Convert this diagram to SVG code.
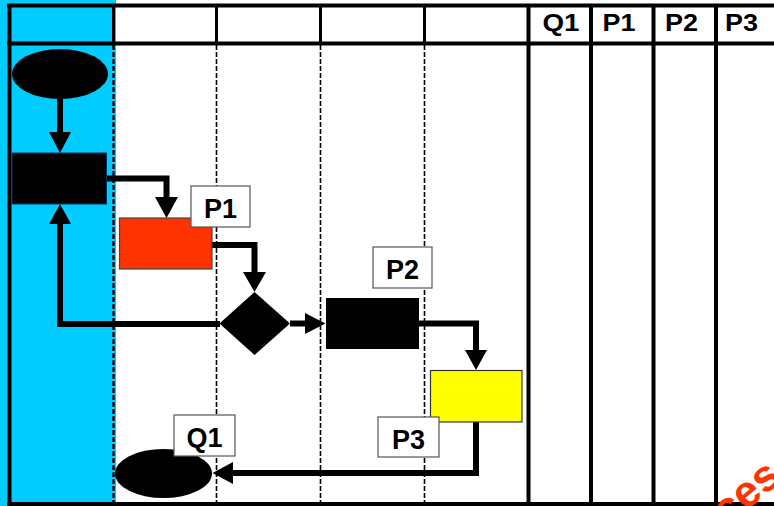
<svg xmlns="http://www.w3.org/2000/svg" width="774" height="506" viewBox="0 0 774 506">
  <style>
    .grid { stroke: #000; fill: none; }
    .thick { stroke-width: 4; }
    .thin { stroke-width: 3; }
    .dash { stroke-width: 1.6; stroke-dasharray: 5 2; }
    .hdr { font-family: "Liberation Sans", Arial, sans-serif; font-weight: bold; font-size: 24px; fill: #000; text-anchor: middle; }
    .lbl rect { fill: #fff; stroke: #555; stroke-width: 1.2; }
    .lbl text { font-family: "Liberation Sans", Arial, sans-serif; font-weight: bold; font-size: 27px; fill: #000; text-anchor: middle; }
    .flow { stroke: #000; stroke-width: 6; fill: none; stroke-linejoin: miter; }
    .head { fill: #000; }
    .mark { font-family: "Liberation Sans", Arial, sans-serif; font-weight: bold; font-size: 44px; fill: #ff3300; }
  </style>

  <!-- background and highlighted lane -->
  <rect x="0" y="0" width="774" height="506" fill="#fff"/>
  <rect x="0" y="0" width="116" height="506" fill="#00ccff"/>

  <!-- table frame -->
  <g id="grid">
    <line class="grid thick" x1="7" y1="5.5" x2="774" y2="5.5"/>
    <line class="grid thick" x1="7" y1="43.5" x2="774" y2="43.5"/>
    <line class="grid thick" x1="7" y1="504" x2="774" y2="504"/>
    <line class="grid thick" x1="9.5" y1="4" x2="9.5" y2="506"/>
    <!-- header separators -->
    <line class="grid thin" x1="113.5" y1="6" x2="113.5" y2="43"/>
    <line class="grid thin" x1="216.5" y1="6" x2="216.5" y2="43"/>
    <line class="grid thin" x1="320.5" y1="6" x2="320.5" y2="43"/>
    <line class="grid thin" x1="424.5" y1="6" x2="424.5" y2="43"/>
    <!-- dashed lane dividers -->
    <line class="grid" stroke-width="2.4" stroke-dasharray="5 2" x1="113.5" y1="45" x2="113.5" y2="503"/>
    <line class="grid dash" x1="216.5" y1="45" x2="216.5" y2="503"/>
    <line class="grid dash" x1="320.5" y1="45" x2="320.5" y2="503"/>
    <line class="grid dash" x1="424.5" y1="45" x2="424.5" y2="503"/>
    <!-- right-hand columns -->
    <line class="grid thick" x1="528.5" y1="4" x2="528.5" y2="506"/>
    <line class="grid thick" x1="591" y1="4" x2="591" y2="506"/>
    <line class="grid thick" x1="653.5" y1="4" x2="653.5" y2="506"/>
    <line class="grid thick" x1="716" y1="4" x2="716" y2="506"/>
    <text class="hdr" x="561" y="31" textLength="37" lengthAdjust="spacingAndGlyphs">Q1</text>
    <text class="hdr" x="619" y="31" textLength="33" lengthAdjust="spacingAndGlyphs">P1</text>
    <text class="hdr" x="681.5" y="31" textLength="33" lengthAdjust="spacingAndGlyphs">P2</text>
    <text class="hdr" x="741.5" y="31" textLength="33" lengthAdjust="spacingAndGlyphs">P3</text>
  </g>

  <!-- connectors -->
  <g id="connectors">
    <line class="flow" x1="60" y1="99" x2="60" y2="134"/>
    <polygon class="head" points="49,132 71,132 60,153"/>

    <polyline class="flow" points="106,178.5 166.5,178.5 166.5,199"/>
    <polygon class="head" points="155,197 178,197 166.5,218"/>

    <polyline class="flow" points="212,245 254.5,245 254.5,274"/>
    <polygon class="head" points="243,272 266,272 254.5,292"/>

    <line class="flow" x1="290" y1="323.5" x2="307" y2="323.5"/>
    <polygon class="head" points="305,313 305,334 325.5,323.5"/>

    <polyline class="flow" points="220,324 60,324 60,222"/>
    <polygon class="head" points="49,224 71,224 60,204"/>

    <polyline class="flow" points="419,323.5 476,323.5 476,352"/>
    <polygon class="head" points="465,350 487,350 476,370"/>

    <polyline class="flow" points="476,422 476,473 231,473"/>
    <polygon class="head" points="233,462 233,484 212.5,473"/>
  </g>

  <!-- nodes -->
  <g id="start">
    <ellipse cx="60" cy="74" rx="48" ry="25" fill="#000"/>
  </g>
  <g id="step-a">
    <rect x="12" y="153" width="94.5" height="51" fill="#000" stroke="#036" stroke-width="1"/>
  </g>
  <g id="step-p1">
    <rect x="119.5" y="218" width="92.5" height="51" fill="#ff3300" stroke="#444" stroke-width="1.2"/>
  </g>
  <g id="label-p1" class="lbl">
    <rect x="191" y="186" width="59" height="41"/>
    <text x="220.5" y="218">P1</text>
  </g>
  <g id="decision">
    <polygon points="254.5,292 290,323.5 254.5,355 219.5,323.5" fill="#000"/>
  </g>
  <g id="step-p2">
    <rect x="326" y="298" width="93" height="51" fill="#000"/>
  </g>
  <g id="label-p2" class="lbl">
    <rect x="373" y="247" width="59" height="41"/>
    <text x="402.5" y="279">P2</text>
  </g>
  <g id="step-p3">
    <rect x="430.5" y="370.5" width="91.5" height="51.5" fill="#ffff00" stroke="#333" stroke-width="1.2"/>
  </g>
  <g id="label-p3" class="lbl">
    <rect x="378" y="417" width="61" height="40"/>
    <text x="408.5" y="449">P3</text>
  </g>
  <g id="end-q1">
    <ellipse cx="163.5" cy="473.5" rx="48.5" ry="24.5" fill="#000"/>
  </g>
  <g id="label-q1" class="lbl">
    <rect x="174" y="415" width="61" height="41"/>
    <text x="204.5" y="447">Q1</text>
  </g>

  <!-- corner stamp, running off the page -->
  <text class="mark" x="727" y="527" transform="rotate(-40 727 527)">ces</text>
</svg>
